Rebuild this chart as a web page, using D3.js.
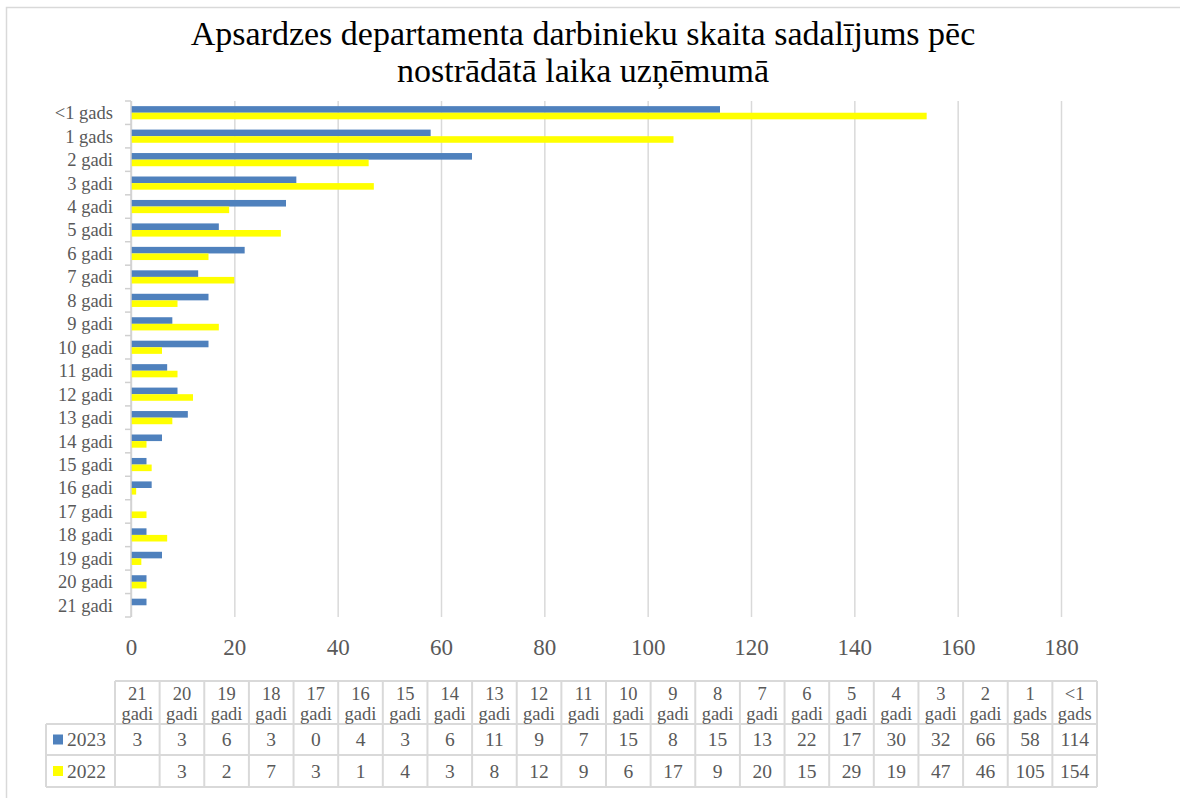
<!DOCTYPE html>
<html lang="lv">
<head>
<meta charset="utf-8">
<script src="https://cdn.jsdelivr.net/npm/d3@7"></script>
<style>
  body { margin: 0; background: #fff; }
  text { font-family: "Liberation Serif", "DejaVu Serif", serif; }
</style>
</head>
<body>
<script>
  // categories top to bottom, as in the chart
  var categories = ["<1 gads", "1 gads", "2 gadi", "3 gadi", "4 gadi", "5 gadi", "6 gadi",
    "7 gadi", "8 gadi", "9 gadi", "10 gadi", "11 gadi", "12 gadi", "13 gadi", "14 gadi",
    "15 gadi", "16 gadi", "17 gadi", "18 gadi", "19 gadi", "20 gadi", "21 gadi"];
  var values2023 = [114, 58, 66, 32, 30, 17, 22, 13, 15, 8, 15, 7, 9, 11, 6, 3, 4, 0, 3, 6, 3, 3];
  var values2022 = [154, 105, 46, 47, 19, 29, 15, 20, 9, 17, 6, 9, 12, 8, 3, 4, 1, 3, 7, 2, 3, null];
  var seriesNames = ["2023", "2022"];
  var xTicks = [0, 20, 40, 60, 80, 100, 120, 140, 160, 180];

  var colors = { "2023": "#4f81bd", "2022": "#ffff00" };
  var grey = "#595959";
  var W = 1180, H = 798;

  var svg = d3.select("body").append("svg")
    .attr("width", W)
    .attr("height", H);

  // chart border
  svg.append("rect")
    .attr("x", 6.5).attr("y", 7.5)
    .attr("width", 1190).attr("height", 800)
    .attr("fill", "none").attr("stroke", "#d9d9d9").attr("stroke-width", 1.5);

  // title
  var title = svg.append("text")
    .attr("text-anchor", "middle")
    .attr("font-size", 34)
    .attr("fill", "#000");
  title.append("tspan").attr("x", 583).attr("y", 45)
    .text("Apsardzes departamenta darbinieku skaita sadalījums pēc");
  title.append("tspan").attr("x", 583).attr("y", 82)
    .text("nostrādātā laika uzņēmumā");

  var plotLeft = 131, plotRight = 1061, plotTop = 101, plotBottom = 617;

  var x = d3.scaleLinear().domain([0, 180]).range([plotLeft, plotRight]);
  var y = d3.scaleBand().domain(categories).range([plotTop, plotBottom]).paddingInner(0).paddingOuter(0);
  var ySub = d3.scaleBand().domain(seriesNames).range([0, y.bandwidth()]).paddingOuter(0.78).paddingInner(0);

  // gridlines
  var gx = svg.append("g")
    .attr("transform", "translate(0," + plotBottom + ")")
    .call(d3.axisBottom(x).tickValues(xTicks).tickSize(-(plotBottom - plotTop)).tickPadding(22));
  gx.select(".domain").remove();
  gx.selectAll(".tick line").attr("stroke", "#d9d9d9").attr("stroke-width", 1.5);
  gx.selectAll(".tick text")
    .attr("fill", grey)
    .attr("font-size", 23)
    .attr("font-family", "Liberation Serif, serif");

  // bars
  var rows = categories.map(function(c, i) {
    return { cat: c, values: [
      { s: "2023", v: values2023[i] },
      { s: "2022", v: values2022[i] }
    ] };
  });

  var groups = svg.selectAll("g.cat")
    .data(rows)
    .enter().append("g")
    .attr("class", "cat")
    .attr("transform", function(d) { return "translate(0," + y(d.cat) + ")"; });

  groups.selectAll("rect")
    .data(function(d) { return d.values.filter(function(v) { return v.v; }); })
    .enter().append("rect")
    .attr("x", x(0))
    .attr("y", function(d) { return ySub(d.s); })
    .attr("width", function(d) { return x(d.v) - x(0); })
    .attr("height", ySub.bandwidth())
    .attr("fill", function(d) { return colors[d.s]; });

  // left axis
  svg.append("line")
    .attr("x1", plotLeft).attr("x2", plotLeft)
    .attr("y1", plotTop).attr("y2", plotBottom)
    .attr("stroke", "#d0d0d0").attr("stroke-width", 1.5);
  var edges = categories.map(function(c) { return y(c); }).concat([plotBottom]);
  svg.selectAll("line.ytick")
    .data(edges)
    .enter().append("line")
    .attr("class", "ytick")
    .attr("x1", plotLeft - 6).attr("x2", plotLeft)
    .attr("y1", function(d) { return d; }).attr("y2", function(d) { return d; })
    .attr("stroke", "#d0d0d0").attr("stroke-width", 1.5);

  svg.selectAll("text.ylab")
    .data(categories)
    .enter().append("text")
    .attr("class", "ylab")
    .attr("x", 113)
    .attr("y", function(d) { return y(d) + y.bandwidth() / 2; })
    .attr("dy", "0.35em")
    .attr("text-anchor", "end")
    .attr("font-size", 18.5)
    .attr("fill", grey)
    .text(function(d) { return d; });

  // data table
  var tableCats = categories.slice().reverse();
  var t2023 = values2023.slice().reverse();
  var t2022 = values2022.slice().reverse();
  var tx = d3.scaleBand().domain(tableCats).range([115, 1097]);
  var rowY = [681, 724, 755, 787];
  var legendLeft = 46;
  var lineCol = "#d9d9d9";

  var tbl = svg.append("g");
  // horizontal lines
  tbl.append("line").attr("x1", 115).attr("x2", 1097).attr("y1", rowY[0]).attr("y2", rowY[0]);
  [1, 2, 3].forEach(function(i) {
    tbl.append("line").attr("x1", legendLeft).attr("x2", 1097).attr("y1", rowY[i]).attr("y2", rowY[i]);
  });
  // vertical lines
  tbl.append("line").attr("x1", legendLeft).attr("x2", legendLeft).attr("y1", rowY[1]).attr("y2", rowY[3]);
  tableCats.forEach(function(c) {
    tbl.append("line").attr("x1", tx(c)).attr("x2", tx(c)).attr("y1", rowY[0]).attr("y2", rowY[3]);
  });
  tbl.append("line").attr("x1", 1097).attr("x2", 1097).attr("y1", rowY[0]).attr("y2", rowY[3]);
  tbl.selectAll("line").attr("stroke", lineCol).attr("stroke-width", 2);

  // header
  tbl.selectAll("text.hdr")
    .data(tableCats)
    .enter().append("text")
    .attr("class", "hdr")
    .attr("text-anchor", "middle")
    .attr("font-size", 18.5)
    .attr("fill", grey)
    .each(function(d) {
      var parts = d.split(" ");
      var cx = tx(d) + tx.bandwidth() / 2;
      d3.select(this).append("tspan").attr("x", cx).attr("y", 700).text(parts[0]);
      d3.select(this).append("tspan").attr("x", cx).attr("y", 720).text(parts[1]);
    });

  var tableRows = [
    { name: "2023", vals: t2023, y: (rowY[1] + rowY[2]) / 2 },
    { name: "2022", vals: t2022, y: (rowY[2] + rowY[3]) / 2 }
  ];
  tableRows.forEach(function(r) {
    tbl.append("rect")
      .attr("x", 53).attr("y", r.y - 5)
      .attr("width", 10).attr("height", 10)
      .attr("fill", colors[r.name]);
    tbl.append("text")
      .attr("x", 67).attr("y", r.y).attr("dy", "0.35em")
      .attr("font-size", 19.5).attr("fill", grey)
      .text(r.name);
    tbl.selectAll(null)
      .data(r.vals)
      .enter().append("text")
      .attr("x", function(d, i) { return tx(tableCats[i]) + tx.bandwidth() / 2; })
      .attr("y", r.y).attr("dy", "0.35em")
      .attr("text-anchor", "middle")
      .attr("font-size", 19.5).attr("fill", grey)
      .text(function(d) { return d == null ? "" : d; });
  });
</script>
</body>
</html>
